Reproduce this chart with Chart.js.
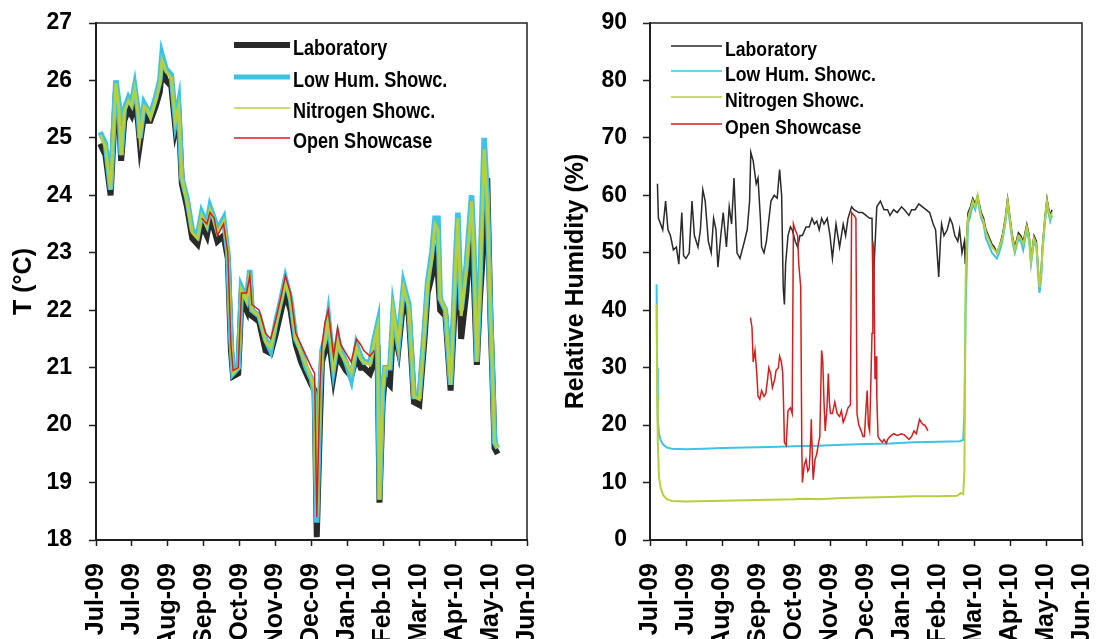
<!DOCTYPE html>
<html>
<head>
<meta charset="utf-8">
<script src="https://cdn.jsdelivr.net/npm/chart.js@4.4.1/dist/chart.umd.min.js"></script>
<style>
  html, body { margin: 0; padding: 0; background: #fff; }
  #wrap { position: relative; width: 1096px; height: 639px; overflow: hidden; background: #fff; }
  #tempCanvas { position: absolute; left: 0; top: 0; }
  #rhCanvas { position: absolute; left: 540px; top: 0; }
</style>
</head>
<body>
<div id="wrap">
  <canvas id="tempCanvas" width="540" height="639"></canvas>
  <canvas id="rhCanvas" width="556" height="639"></canvas>
</div>
<script>
// Tick labels along the day axis (one every 30 days from the first day)
const tickLabels = ['Jul-09', 'Jul-09', 'Aug-09', 'Sep-09', 'Oct-09', 'Nov-09', 'Dec-09',
                    'Jan-10', 'Feb-10', 'Mar-10', 'Apr-10', 'May-10', 'Jun-10'];
const seriesNames = ['Laboratory', 'Low Hum. Showc.', 'Nitrogen Showc.', 'Open Showcase'];

// ---- Temperature (°C), x = days since first tick ----
const tDays = [3.5,7.9,12.2,14.9,16.6,19.2,21.0,23.6,27.1,29.7,
  32.3,35.0,36.7,40.2,42.8,45.4,49.8,53.3,55.1,58.5,
  62.9,66.4,69.0,71.7,76.0,80.4,84.8,88.3,92.6,95.2,
  98.7,101.4,106.6,110.1,112.7,114.5,118.8,121.5,125.8,128.5,
  130.2,136.3,141.6,145.9,150.3,154.7,158.2,162.5,166.9,171.3,
  175.6,180.0,182.6,184.4,187.0,188.7,191.4,194.0,198.4,201.9,
  204.5,208.8,213.2,217.6,221.1,223.7,228.9,232.4,235.1,236.8,
  239.4,241.2,245.5,248.2,252.5,256.9,261.3,265.6,270.0,274.4,
  277.0,280.5,283.1,285.7,287.5,291.9,296.2,300.6,302.3,305.0,
  309.3,313.7,315.5,318.1,320.7,324.2,326.8,329.4,331.2,332.9,
  335.5];
const tLab = [24.9,24.7,24.0,25.1,25.8,25.4,24.6,25.3,25.5,25.4,
  25.6,25.3,24.9,25.4,25.3,25.3,25.55,25.8,26.2,26.0,
  25.9,25.15,25.4,24.2,23.8,23.25,23.15,23.5,23.3,23.6,
  23.4,23.2,23.3,22.9,21.3,20.85,20.9,22.2,22.0,22.5,
  21.9,21.8,21.3,21.25,21.6,22.0,22.3,22.0,21.4,21.1,
  20.9,20.7,20.6,18.05,20.0,21.1,21.3,21.6,20.85,21.3,
  21.1,20.95,20.85,21.2,21.0,21.0,20.9,21.1,21.4,18.65,
  20.4,20.8,20.7,21.7,21.3,22.2,21.9,20.4,20.35,21.5,
  22.3,22.6,22.9,22.6,22.0,21.9,20.6,22.5,23.2,21.5,
  22.3,23.5,22.6,21.05,22.2,23.3,24.3,21.9,20.8,19.6,
  19.5];
const tLowHum = [25.1,24.9,24.1,25.3,26.0,25.6,24.7,25.5,25.7,25.6,
  25.9,25.5,25.0,25.6,25.5,25.4,25.7,26.0,26.45,26.2,
  26.1,25.3,25.6,24.3,23.95,23.4,23.3,23.7,23.5,23.8,
  23.6,23.4,23.6,23.0,21.5,20.9,21.0,22.4,22.2,22.7,
  22.0,21.9,21.5,21.3,21.8,22.2,22.55,22.2,21.5,21.3,
  21.0,20.8,20.5,18.3,20.5,21.3,21.5,21.9,21.0,21.5,
  21.3,21.1,20.8,21.4,21.2,21.1,21.1,21.5,21.75,18.7,
  20.6,21.0,21.0,22.0,21.4,22.45,22.1,20.5,20.5,21.7,
  22.5,23.0,23.6,23.6,22.2,22.0,20.7,23.0,23.7,22.0,
  22.8,24.0,23.2,21.1,22.5,25.0,24.0,22.0,20.9,19.7,
  19.6];
const tNitrogen = [25.05,24.85,24.1,25.25,25.95,25.5,24.7,25.45,25.65,25.55,
  25.85,25.45,25.0,25.55,25.5,25.35,25.65,25.95,26.35,26.15,
  26.05,25.3,25.55,24.3,23.9,23.35,23.25,23.65,23.45,23.75,
  23.55,23.35,23.55,23.0,21.5,20.9,21.0,22.35,22.15,22.65,
  22.0,21.9,21.45,21.35,21.75,22.15,22.5,22.15,21.5,21.25,
  21.05,20.8,20.6,18.4,20.6,21.25,21.45,21.85,21.0,21.45,
  21.25,21.1,20.9,21.35,21.15,21.1,21.05,21.45,21.7,18.7,
  20.6,21.0,21.0,22.0,21.4,22.4,22.05,20.5,20.45,21.65,
  22.45,22.9,23.5,23.4,22.2,22.0,20.7,22.9,23.6,21.9,
  22.7,23.9,23.1,21.1,22.4,24.8,23.9,22.0,20.9,19.7,
  19.6];
const tOpenDays = [88.3,92.6,95.2,98.7,101.4,106.6,110.1,112.7,114.5,118.8,
  121.5,125.8,128.5,130.2,136.3,141.6,145.9,150.3,154.7,158.2,
  162.5,166.9,171.3,175.6,180.0,182.6,184.4,187.0,188.7,191.4,
  194.0,198.4,201.9,204.5,208.8,213.2,217.6,221.1,223.7,228.9,
  232.4];
const tOpen = [23.6,23.5,23.7,23.6,23.3,23.5,23.0,21.4,20.95,21.0,
  22.3,22.3,22.6,22.1,22.0,21.6,21.5,21.85,22.25,22.6,
  22.3,21.6,21.4,21.2,21.0,20.9,18.4,20.6,21.4,21.8,
  22.0,21.2,21.7,21.4,21.25,21.1,21.5,21.4,21.3,21.2,
  21.3];

// ---- Relative humidity (%) ----
const rhLabDays = [6.2,7,8,10.6,13,15,17,19.5,22,24,
  26.5,28,30,32.7,35,37,40,42,44,46,
  48.6,51,53,55,56.6,59,61,63.7,66,68,
  70,72.5,75,78.7,81,83,84,86,88.5,90,
  92,93,95,97,100.8,103.5,106,108,109.7,111,
  112,113,115,117,118.5,121,123,125,127,130,
  132.7,135,137,139,141,143,145,147.7,150,152,
  155,158,161,163,165,168,170,174,177,180,
  183,185,186,187,189,192,195,198,200,203,
  206,209.6,212,215.8,218,221,224,227,230,233,
  236,238,240.6,242,243,245,247.7,250,252,254,
  256.5,258,260,262,262.7,265,267,269,271,273,
  275,276,278,280,282,285,287,289,291,293.6,
  296,298,300.7,302,304,307,309,311,314,316,
  317.5,320,322,323,324.6,326,327,329,330.8,332,
  333.5,335];
const rhLab = [62,56,55.5,54,59,54,53,50.5,51,48,
  57,49.5,49,50,59,53,51,54,61,59,
  52,50,56,54,47.5,53,57,51,58,55,
  63,50,49,52,54,59,67.5,66,62,63,
  56,51,50,52,59,60,59.5,64.5,60,44,
  41,48,53,54.5,54,52,51,53,53,54.5,
  54.5,56,55,55.5,54,56,55,56,53,49,
  55,51,55,53,56,58,57.5,57,57,56.5,
  56,56,41,49,58,59,57.5,57.5,56.5,57.5,
  57,58,57.5,56.5,57.5,57.5,58.5,58,57.5,57,
  55,54,45.8,52,55,53,54,56,55,53,
  52,54,50,52,48,57,58,59.5,58.5,60,
  58,57,56,54,53,51.5,51,50,51,53,
  56,59.5,55,53,51,53.5,53,52,55,53,
  49,53,52,49,43.5,47,51,56,59.5,58,
  56.5,57.5];
const rhLowDays = [5.5,6,6.5,7.5,9,11,14,18,30,45,
  60,80,100,120,140,160,180,200,220,240,
  258,261,262,263,264,265,267,269,271,273,
  275,276,278,280,282,285,287,289,291,293.6,
  296,298,300.7,302,304,307,309,311,314,316,
  317.5,320,322,323,324.6,326,327,329,330.8,332,
  333.5,335];
const rhLow = [44.5,30,21,18.5,17.3,16.6,16.1,15.9,15.8,15.9,
  16.0,16.1,16.2,16.3,16.4,16.6,16.7,16.8,17.0,17.1,
  17.2,17.4,22,40,48,55,56.5,58.5,57.5,59.5,
  57,56,55,52.5,51.5,50,49.5,49,50,52,
  55,58.5,54,52,50,52.5,52,50.5,54,52,
  48,52,51,47.5,43,45.5,50,55,58.5,57,
  55.5,56.5];
const rhNitroDays = [5.5,6,6.5,7.5,9,11,14,18,30,50,
  80,100,120,130,140,160,180,200,220,240,
  256,259,261,262,263,264,265,267,269,271,
  273,275,276,278,280,282,285,287,289,291,
  293.6,296,298,300.7,302,304,307,309,311,314,
  316,317.5,320,322,323,324.6,326,327,329,330.8,
  332,333.5,335];
const rhNitro = [41,25,17,11,9,7.8,7.1,6.8,6.7,6.8,
  6.9,7.0,7.1,7.2,7.1,7.3,7.4,7.5,7.6,7.6,
  7.7,8.2,8.0,12,45,52,56,57.5,59,58,
  60,57.5,56.5,55.5,53.5,52.5,51,50.5,50,51,
  52.5,55.5,59,54.5,52.5,50.5,53,52.5,51.5,54.5,
  52.5,48.5,52.5,51.5,48.5,44,46.5,50.5,55.5,59,
  57.5,56,57];
const rhOpenDays = [83.7,85,86,87.5,89,90,91.5,93,95,96.5,
  98,99,100.5,102,104,105,107,108,109.5,110.6,
  111.5,112,113.5,115,117,118.5,119.5,121,123,124,
  125.6,126.5,127,128.5,130,131.5,132.7,134,134.4,135.5,
  136,137.5,139,140.5,141.5,143,144,145,146,147.5,
  148.6,149.5,150.4,152,154,156,158,159.5,161,162,
  163.6,165,167,168,170,171.6,172.5,174,176,177.5,
  178.7,180,181,182,183,184,185,185.7,186.5,187.5,
  188.5,189,190,191.5,193.7,195,197,198,200,203,
  206,209.6,212,215.8,218,220,222,224.6,226,228,
  229,231.7];
const rhOpen = [38.7,37,31,33,29,25,24.5,26,25,25.5,
  28,30,29,26.5,28,29.5,30,32,31,29,
  22,17,16.5,22.5,23,22,55,54,53,48,
  44,16,10,13,14,12,12.5,18,21,13,
  10.5,14,15,17,18,33,31,24,19,23,
  29,24,22,22,24,22,21.5,22.5,20.5,21,
  22,23,23.5,57,56.5,56,22,20,19,18,
  18,23,26,20,19,27,36,52,50,28,
  32,25,18,17.5,17,17.5,16.8,17.5,18,18.5,
  18.2,18.5,18.3,17.5,18,19,18.5,21,20.5,20,
  20,19];

const FONT = "'Liberation Sans', Arial, Helvetica, sans-serif";
const INK = '#1f1f1f';
const COLORS = ['#2a2a2a', '#3cc3e6', '#b5d03c', '#d21f1f'];

function pts(xs, ys) { return xs.map((x, i) => ({ x: x, y: ys[i] })); }

// Draws the closing frame (top/right) and the in-plot legend
const frameAndLegend = {
  id: 'frameAndLegend',
  afterDatasetsDraw(chart, args, opts) {
    const ctx = chart.ctx, a = chart.chartArea;
    ctx.save();
    ctx.strokeStyle = INK;
    ctx.lineWidth = 1.5;
    ctx.beginPath();
    ctx.moveTo(a.left, a.top);
    ctx.lineTo(a.right, a.top);
    ctx.lineTo(a.right, a.bottom);
    ctx.stroke();
    chart.data.datasets.forEach((ds, i) => {
      const y = opts.rows[i];
      ctx.strokeStyle = ds.borderColor;
      ctx.lineWidth = opts.widths[i];
      ctx.lineCap = 'butt';
      ctx.beginPath();
      ctx.moveTo(opts.x0, y);
      ctx.lineTo(opts.x1, y);
      ctx.stroke();
      ctx.save();
      ctx.translate(opts.textX, y + opts.textDy);
      ctx.scale(opts.squeeze, 1);
      ctx.font = 'bold ' + opts.size + 'px ' + FONT;
      ctx.fillStyle = '#000';
      ctx.textAlign = 'left';
      ctx.textBaseline = 'middle';
      ctx.fillText(ds.label, 0, 0);
      ctx.restore();
    });
    ctx.restore();
  }
};

function makeChart(canvas, cfg) {
  return new Chart(canvas, {
    type: 'line',
    data: { datasets: cfg.datasets },
    options: {
      responsive: false,
      animation: false,
      devicePixelRatio: 1,
      layout: { padding: { top: cfg.top, right: cfg.right, left: 0, bottom: 0 } },
      elements: { point: { radius: 0 }, line: { tension: 0 } },
      plugins: {
        legend: { display: false },
        tooltip: { enabled: false },
        frameAndLegend: cfg.legend
      },
      scales: {
        x: {
          type: 'linear', min: 0, max: 360,
          afterFit(s) { s.height = cfg.xAxisHeight; s.paddingLeft = 0; s.paddingRight = 0; },
          ticks: {
            stepSize: 30, autoSkip: false, maxRotation: 90, minRotation: 90, padding: 17,
            color: '#000', font: { family: FONT, size: 25, weight: 'bold' },
            callback: (v, i) => tickLabels[i]
          },
          grid: { display: true, drawOnChartArea: false, drawTicks: true, tickLength: 6,
                  color: INK, tickColor: INK, tickWidth: 1.5 },
          border: { display: true, color: INK, width: 2 }
        },
        y: {
          min: cfg.yMin, max: cfg.yMax,
          afterFit(s) { s.width = cfg.yAxisWidth; s.paddingTop = 0; s.paddingBottom = 0; },
          ticks: { stepSize: cfg.yStep, padding: cfg.yTickPad, color: '#000',
                   font: { family: FONT, size: 23, weight: 'bold' } },
          grid: { display: true, drawOnChartArea: false, drawTicks: true, tickLength: 7,
                  color: INK, tickColor: INK, tickWidth: 1.5 },
          border: { display: true, color: INK, width: 2 },
          title: { display: true, text: cfg.yTitle, color: '#000',
                   font: { family: FONT, size: 25, weight: 'bold' },
                   padding: { top: cfg.titlePad, bottom: 0 } }
        }
      }
    },
    plugins: [frameAndLegend]
  });
}

// Temperature panel
makeChart(document.getElementById('tempCanvas'), {
  top: 23, right: 13, xAxisHeight: 99, yAxisWidth: 96,
  yMin: 18, yMax: 27, yStep: 1, yTickPad: 17, titlePad: 9.5, yTitle: 'T (°C)',
  legend: { x0: 234, x1: 290, textX: 293, rows: [45, 77, 108, 138], textDy: 4,
            size: 22, squeeze: 0.82, widths: [6, 5, 1.5, 1.5] },
  datasets: [
    { label: seriesNames[0], data: pts(tDays, tLab), borderColor: COLORS[0], borderWidth: 6, order: 4 },
    { label: seriesNames[1], data: pts(tDays, tLowHum), borderColor: COLORS[1], borderWidth: 5.5, order: 3 },
    { label: seriesNames[2], data: pts(tDays, tNitrogen), borderColor: COLORS[2], borderWidth: 3, order: 2 },
    { label: seriesNames[3], data: pts(tOpenDays, tOpen), borderColor: COLORS[3], borderWidth: 1.5, order: 1 }
  ]
});

// Relative humidity panel
makeChart(document.getElementById('rhCanvas'), {
  top: 23, right: 14, xAxisHeight: 99, yAxisWidth: 110,
  yMin: 0, yMax: 90, yStep: 10, yTickPad: 16, titlePad: 21, yTitle: 'Relative Humidity (%)',
  legend: { x0: 131, x1: 182, textX: 185, rows: [46, 71, 97, 124], textDy: 4,
            size: 21, squeeze: 0.84, widths: [1.5, 1.5, 1.5, 1.5] },
  datasets: [
    { label: seriesNames[0], data: pts(rhLabDays, rhLab), borderColor: COLORS[0], borderWidth: 1.5, order: 4 },
    { label: seriesNames[1], data: pts(rhLowDays, rhLow), borderColor: COLORS[1], borderWidth: 2, order: 3 },
    { label: seriesNames[2], data: pts(rhNitroDays, rhNitro), borderColor: COLORS[2], borderWidth: 2, order: 2 },
    { label: seriesNames[3], data: pts(rhOpenDays, rhOpen), borderColor: COLORS[3], borderWidth: 1.5, order: 1 }
  ]
});
</script>
</body>
</html>
